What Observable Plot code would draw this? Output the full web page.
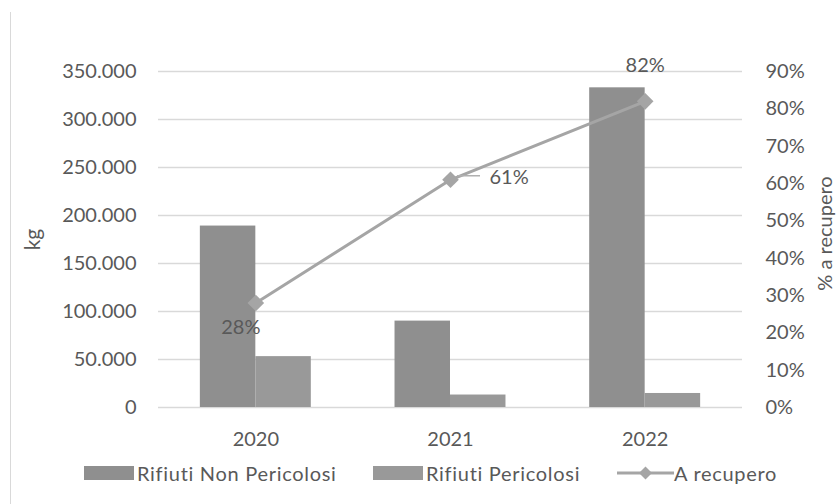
<!DOCTYPE html>
<html><head><meta charset="utf-8">
<script src="https://cdn.jsdelivr.net/npm/d3@7"></script>
<script src="https://cdn.jsdelivr.net/npm/@observablehq/plot@0.6"></script>
<style>
body{margin:0;background:#fff;font-family:Lato,"Open Sans",sans-serif;}
#wrap{position:relative;width:837px;height:504px;overflow:hidden;background:#fff}
#border{position:absolute;left:10px;top:12px;width:1px;height:492px;background:#d9d9d9}
#chart{position:absolute;left:0;top:0}
.leg{position:absolute;top:462px;height:22px;display:flex;align-items:center;font-size:20px;letter-spacing:0.7px;color:#595959;white-space:nowrap}
.sw{display:inline-block;width:50px;height:14px;margin-right:3px}
</style></head>
<body>
<div id="wrap">
  <div id="chart"></div>
  <div id="border"></div>
  <div class="leg" style="left:84px"><span class="sw" style="background:#8f8f8f"></span>Rifiuti Non Pericolosi</div>
  <div class="leg" style="left:373px"><span class="sw" style="background:#999999"></span>Rifiuti Pericolosi</div>
  <div class="leg" style="left:617px"><svg width="57" height="20"><line x1="0" y1="10" x2="57" y2="10" stroke="#a5a5a5" stroke-width="3"/><path d="M28.5,3.5 L35,10 L28.5,16.5 L22,10 Z" fill="#a5a5a5"/></svg>A recupero</div>
</div>
<script>
const years = ["2020", "2021", "2022"];
const nonPericolosi = [189000, 90000, 333000];
const pericolosi = [53000, 13000, 14600];
const recupero = [0.28, 0.61, 0.82];
const kgTicks = [0, 50000, 100000, 150000, 200000, 250000, 300000, 350000];
const pctTicks = [0, 0.1, 0.2, 0.3, 0.4, 0.5, 0.6, 0.7, 0.8, 0.9];

const kgMax = 350000, pctMax = 0.9;
const toKg = p => p / pctMax * kgMax;

const npData = years.map((y, i) => ({year: y, value: nonPericolosi[i]}));
const pData = years.map((y, i) => ({year: y, value: pericolosi[i]}));
const lineData = years.map((y, i) => ({year: y, pct: recupero[i]}));

const W = 837, H = 455, mL = 158, mR = 95, mT = 71, mB = 48;
const pIn = 0.43, pOut = 0.215;
const step = (W - mL - mR) / (years.length - pIn + 2 * pOut);
const bw = step * (1 - pIn);

const itFmt = d3.formatLocale({decimal: ",", thousands: ".", grouping: [3], currency: ["", ""]}).format(",");
const pctLabel = d => Math.round(d.pct * 100) + "%";
const col = "#595959";
const fs = 20;

const chart = Plot.plot({
  width: W, height: H,
  marginTop: mT, marginBottom: mB, marginLeft: mL, marginRight: mR,
  style: {fontFamily: "Lato, 'Open Sans', sans-serif", fontSize: fs + "px", color: col, background: "transparent"},
  x: {domain: years, paddingInner: pIn, paddingOuter: pOut, round: false, label: null},
  y: {domain: [0, kgMax], label: null},
  marks: [
    Plot.ruleY(kgTicks, {stroke: "#d9d9d9", strokeWidth: 1.3}),
    Plot.barY(npData, {x: "year", y: "value", fill: "#8f8f8f", insetRight: bw / 2}),
    Plot.barY(pData, {x: "year", y: "value", fill: "#999999", insetLeft: bw / 2}),
    Plot.line(lineData, {x: "year", y: d => toKg(d.pct), stroke: "#a5a5a5", strokeWidth: 3}),
    Plot.dot(lineData, {x: "year", y: d => toKg(d.pct), symbol: "diamond2", fill: "#a5a5a5", stroke: "none", r: 7.5}),
    Plot.tickY(lineData.filter(d => d.year === "2021"), {x: "year", y: d => toKg(d.pct), insetLeft: bw / 2 + 7, insetRight: bw / 2 - 30, dy: -4, stroke: "#b0b0b0", strokeWidth: 1.5}),
    Plot.text(lineData.filter(d => d.year === "2020"), {x: "year", y: d => toKg(d.pct), text: pctLabel, dx: -15, dy: 25, fill: col, fontSize: fs}),
    Plot.text(lineData.filter(d => d.year === "2021"), {x: "year", y: d => toKg(d.pct), text: pctLabel, dx: 39, dy: -2, textAnchor: "start", fill: col, fontSize: fs}),
    Plot.text(lineData.filter(d => d.year === "2022"), {x: "year", y: d => toKg(d.pct), text: pctLabel, dy: -36, fill: col, fontSize: fs}),
    Plot.axisY(kgTicks, {anchor: "left", tickFormat: itFmt, tickSize: 0, tickPadding: 22, label: null}),
    Plot.axisY(pctTicks.map(toKg), {anchor: "right", tickFormat: d => Math.round(d / kgMax * pctMax * 100) + "%", tickSize: 0, tickPadding: 23, label: null}),
    Plot.axisX({tickSize: 0, tickPadding: 24, label: null}),
    Plot.text(["kg"], {frameAnchor: "left", text: d => d, rotate: -90, textAnchor: "middle", dx: -125, fill: col, fontSize: 21}),
    Plot.text(["% a recupero"], {frameAnchor: "right", text: d => d, rotate: -90, textAnchor: "middle", dx: 83, dy: -6, fill: col, fontSize: fs})
  ]
});
document.getElementById("chart").appendChild(chart);
</script>
</body></html>
